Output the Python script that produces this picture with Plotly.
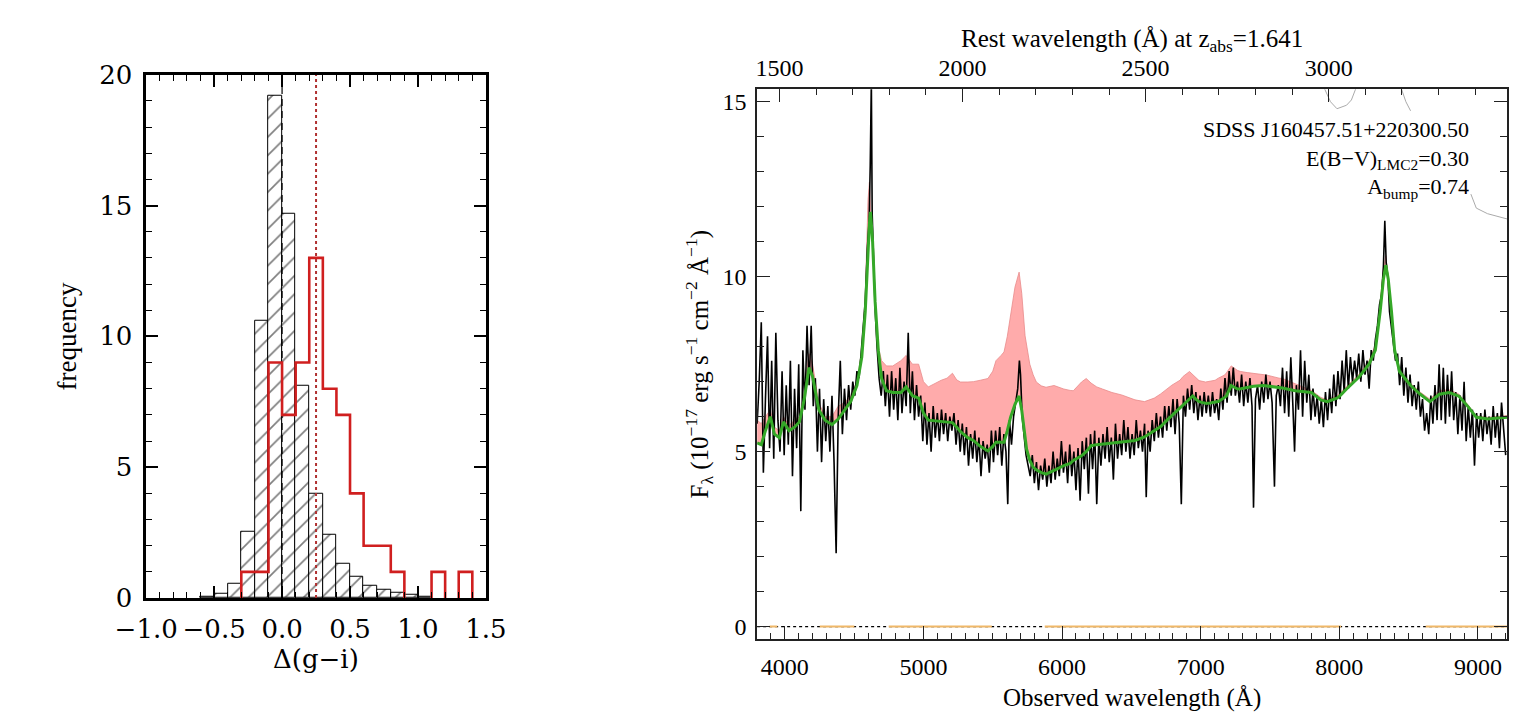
import plotly.graph_objects as go

# ---------------- LEFT PANEL DATA ----------------
ctrl_edges = [-0.6, -0.5, -0.4, -0.3, -0.2, -0.1, 0.0, 0.1, 0.2, 0.3, 0.4, 0.5, 0.6, 0.7, 0.8, 0.9, 1.0, 1.1]
ctrl_freq = [0.05, 0.15, 0.55, 2.55, 10.6, 19.2, 14.7, 8.1, 4.0, 2.4, 1.3, 0.8, 0.45, 0.3, 0.2, 0.12, 0.06]

red_edges = [-0.3, -0.2, -0.1, 0.0, 0.1, 0.2, 0.3, 0.4, 0.5, 0.6, 0.7, 0.8, 0.9, 1.0, 1.1, 1.2, 1.3, 1.4]
red_freq = [1, 1, 9, 7, 9, 13, 8, 7, 4, 2, 2, 1, 0, 0, 1, 0, 1]

ctrl_median = 0.0
red_median = 0.25
x_ticks_left = [-1.0, -0.5, 0.0, 0.5, 1.0, 1.5]
y_ticks_left = [0, 5, 10, 15, 20]

# ---------------- RIGHT PANEL DATA ----------------
z_abs = 1.641

model_wave = [3800, 3830, 3860, 3895, 3925, 3960, 3990, 4030, 4070, 4105, 4140, 4174, 4200, 4245, 4290,
              4340, 4385, 4430, 4475, 4520, 4555, 4580, 4600, 4610, 4618, 4633, 4651, 4674, 4698, 4733,
              4779, 4837, 4875, 4920, 4965, 5000, 5035, 5080, 5128, 5170, 5209, 5240, 5267, 5320, 5360,
              5410, 5465, 5500, 5523, 5560, 5581, 5605, 5628, 5660, 5690, 5709, 5733, 5744, 5767, 5791,
              5814, 5850, 5884, 5942, 5965, 6012, 6058, 6081, 6140, 6174, 6209, 6250, 6291, 6360, 6430,
              6526, 6595, 6665, 6711, 6757, 6792, 6850, 6873, 6919, 6942, 6965, 6988, 7035, 7058, 7104,
              7127, 7173, 7185, 7220, 7266, 7289, 7335, 7381, 7451, 7474, 7566, 7590, 7682, 7775, 7798,
              7867, 7913, 7983, 8006, 8052, 8144, 8214, 8237, 8260, 8295, 8318, 8335, 8353, 8376, 8399,
              8434, 8514, 8584, 8653, 8722, 8792, 8861, 8930, 8988, 9069, 9210]
model_green = [5.25, 5.2, 5.6, 6.0, 5.5, 5.4, 5.85, 5.6, 5.7, 5.85, 6.5, 7.4, 7.15, 6.2, 5.9,
               5.77, 5.93, 6.18, 6.43, 6.89, 7.7, 9.0, 10.9, 11.5, 11.85, 11.0, 9.3, 7.9, 7.09, 6.74,
               6.69, 6.69, 6.85, 6.6, 6.53, 6.1, 5.9, 5.88, 5.88, 5.86, 5.83, 5.7, 5.57, 5.4, 5.32,
               5.15, 5.02, 5.15, 5.27, 5.27, 5.27, 5.6, 5.98, 6.35, 6.59, 6.18, 5.4, 5.07, 4.75, 4.56,
               4.48, 4.4, 4.36, 4.48, 4.51, 4.6, 4.66, 4.75, 4.88, 5.0, 5.17, 5.2, 5.22, 5.25, 5.27,
               5.32, 5.42, 5.6, 5.72, 5.9, 6.03, 6.25, 6.33, 6.5, 6.59, 6.5, 6.43, 6.38, 6.38, 6.42,
               6.43, 6.55, 6.59, 6.89, 6.79, 6.8, 6.84, 6.87, 6.89, 6.88, 6.84, 6.82, 6.74, 6.7, 6.69,
               6.48, 6.43, 6.53, 6.6, 6.79, 7.14, 7.5, 7.7, 7.9, 9.02, 9.93, 10.33, 9.93, 9.02, 7.9,
               7.29, 6.89, 6.64, 6.43, 6.64, 6.69, 6.59, 6.28, 5.98, 5.93, 5.98]
model_red = [5.9, 5.8, 6.0, 6.2, 5.7, 5.6, 6.0, 5.75, 5.9, 6.0, 6.7, 7.8, 7.5, 6.4, 6.0,
             6.0, 6.3, 6.4, 6.6, 7.0, 7.9, 9.4, 12.2, 12.7, 11.9, 11.0, 9.3, 8.0, 7.6, 7.45,
             7.45, 7.6, 7.75, 7.5, 7.5, 7.0, 6.85, 6.95, 7.04, 7.1, 7.24, 7.05, 6.99, 6.99, 7.0,
             7.04, 7.09, 7.3, 7.6, 7.75, 7.85, 8.3, 8.9, 9.7, 10.13, 9.52, 8.31, 8.0, 7.5, 7.2,
             6.99, 6.88, 6.84, 6.89, 6.85, 6.79, 6.75, 6.74, 6.99, 7.09, 6.96, 6.85, 6.79, 6.69, 6.62,
             6.48, 6.43, 6.53, 6.65, 6.79, 6.9, 7.04, 7.15, 7.29, 7.2, 7.09, 7.03, 6.99, 7.0, 7.04,
             7.1, 7.19, 7.25, 7.45, 7.32, 7.29, 7.26, 7.24, 7.2, 7.19, 7.1, 7.09, 6.94, 6.79, 6.75,
             6.55, 6.48, 6.6, 6.69, 6.85, 7.22, 7.6, 7.8, 8.05, 9.3, 10.2, 10.6, 10.0, 9.05, 7.95,
             7.35, 6.95, 6.7, 6.5, 6.75, 6.77, 6.65, 6.33, 6.02, 5.98, 6.03]

obs_wave = [3800, 3815, 3830, 3845, 3860, 3875, 3890, 3905, 3920, 3935,
            3950, 3965, 3980, 3995, 4010, 4025, 4040, 4055, 4070, 4085,
            4100, 4115, 4130, 4145, 4160, 4175, 4190, 4205, 4220, 4235,
            4250, 4265, 4280, 4295, 4310, 4325, 4340, 4355, 4370, 4385,
            4400, 4415, 4430, 4445, 4460, 4475, 4490, 4505, 4520, 4535,
            4550, 4565, 4580, 4595, 4608, 4616, 4624, 4630, 4640, 4652, 4665, 4680,
            4695, 4710, 4725, 4740, 4755, 4770, 4785, 4800, 4815, 4830,
            4845, 4860, 4875, 4890, 4905, 4920, 4935, 4950, 4965, 4980,
            4995, 5010, 5025, 5040, 5055, 5070, 5085, 5100, 5115, 5130,
            5145, 5160, 5175, 5190, 5205, 5220, 5235, 5250, 5265, 5280,
            5295, 5310, 5325, 5340, 5355, 5370, 5385, 5400, 5415, 5430,
            5445, 5460, 5475, 5490, 5505, 5520, 5535, 5550, 5565, 5580,
            5595, 5608, 5620, 5635, 5650, 5665, 5680, 5692, 5700, 5712,
            5725, 5740, 5755, 5770, 5785, 5800, 5815, 5830, 5845, 5860,
            5875, 5890, 5905, 5920, 5935, 5950, 5965, 5980, 5995, 6010,
            6025, 6040, 6055, 6070, 6085, 6100, 6115, 6130, 6145, 6160,
            6175, 6190, 6205, 6220, 6235, 6250, 6265, 6280, 6295, 6310,
            6325, 6340, 6355, 6370, 6385, 6400, 6415, 6430, 6445, 6460,
            6475, 6490, 6505, 6520, 6535, 6550, 6565, 6580, 6595, 6607,
            6620, 6635, 6650, 6665, 6680, 6695, 6710, 6725, 6740, 6755,
            6770, 6785, 6800, 6815, 6830, 6845, 6860, 6875, 6890, 6905,
            6920, 6935, 6950, 6965, 6980, 6995, 7010, 7025, 7040, 7055,
            7070, 7085, 7100, 7115, 7130, 7145, 7160, 7175, 7190, 7205,
            7220, 7235, 7250, 7265, 7280, 7295, 7310, 7325, 7340, 7355,
            7370, 7381, 7395, 7410, 7425, 7440, 7455, 7470, 7485, 7500,
            7515, 7532, 7545, 7560, 7575, 7590, 7605, 7620, 7635, 7650,
            7665, 7677, 7690, 7705, 7720, 7735, 7750, 7765, 7780, 7795,
            7810, 7825, 7840, 7855, 7870, 7885, 7900, 7915, 7930, 7945,
            7960, 7975, 7990, 8005, 8020, 8035, 8050, 8065, 8080, 8095,
            8110, 8125, 8140, 8155, 8170, 8185, 8200, 8215, 8230, 8245,
            8260, 8275, 8290, 8305, 8318, 8328, 8338, 8350, 8362, 8375,
            8390, 8405, 8420, 8435, 8450, 8465, 8480, 8495, 8510, 8525,
            8540, 8555, 8570, 8585, 8600, 8615, 8630, 8645, 8660, 8675,
            8690, 8705, 8720, 8735, 8750, 8765, 8780, 8795, 8810, 8825,
            8840, 8855, 8870, 8885, 8900, 8915, 8930, 8945, 8960, 8975,
            8990, 9005, 9020, 9035, 9050, 9065, 9080, 9095, 9110, 9125,
            9140, 9155, 9170, 9185, 9200]
obs_flux = [5.8, 7.0, 8.7, 4.4, 6.5, 8.3, 5.1, 7.6, 4.8, 8.4,
            5.9, 5.0, 7.3, 4.9, 6.9, 5.2, 7.6, 4.3, 6.8, 5.1,
            7.5, 3.3, 7.9, 6.2, 8.6, 6.9, 8.6, 6.3, 7.1, 5.0,
            6.8, 4.7, 6.5, 5.3, 6.3, 5.0, 6.6, 4.7, 2.1, 6.0,
            7.6, 5.5, 6.8, 5.9, 6.9, 6.2, 7.0, 6.6, 7.3, 7.1,
            7.8, 8.5, 9.3, 10.8, 11.6, 13.2, 15.6, 11.8, 10.2, 9.0, 8.0, 7.1,
            6.6, 7.3, 6.3, 7.2, 6.0, 7.3, 6.2, 7.1, 5.9, 7.4,
            6.1, 7.0, 6.3, 8.4, 6.1, 7.3, 5.9, 6.9, 6.0, 6.6,
            5.3, 6.4, 5.2, 6.1, 5.0, 6.3, 5.4, 6.1, 5.3, 6.2,
            5.5, 6.1, 5.3, 6.0, 5.6, 6.1, 5.2, 5.9, 5.0, 5.8,
            4.9, 5.7, 4.6, 5.5, 4.8, 5.6, 4.7, 5.4, 4.3, 5.3,
            4.8, 5.2, 4.4, 5.6, 4.7, 5.6, 4.9, 5.7, 4.6, 5.5,
            5.0, 3.5, 5.9, 5.2, 6.0, 6.4, 6.8, 7.6, 7.2, 6.0,
            5.5, 4.9, 4.6, 4.3, 4.9, 4.1, 4.7, 3.9, 4.6, 4.2,
            4.8, 4.0, 4.6, 4.1, 5.0, 4.2, 4.8, 4.3, 5.3, 4.4,
            5.0, 4.1, 5.2, 4.3, 5.0, 3.9, 5.1, 3.6, 5.3, 4.5,
            5.4, 3.8, 5.5, 4.5, 5.6, 3.5, 5.4, 4.6, 5.5, 4.8,
            5.7, 4.7, 5.4, 4.2, 5.8, 4.8, 5.5, 4.9, 5.9, 5.0,
            5.7, 4.8, 5.5, 4.9, 5.9, 5.1, 5.6, 5.0, 5.8, 3.7,
            5.6, 5.0, 5.9, 5.3, 6.1, 5.4, 6.0, 5.4, 6.3, 5.6,
            6.3, 5.7, 6.5, 5.5, 6.5, 5.8, 3.5, 6.6, 6.0, 6.8,
            6.2, 6.9, 6.1, 6.7, 5.9, 6.6, 6.0, 6.7, 6.1, 6.6,
            6.0, 6.7, 6.1, 6.5, 5.9, 6.8, 6.2, 7.1, 6.4, 7.3,
            6.6, 7.4, 6.6, 7.0, 6.4, 7.2, 6.3, 7.0, 6.4, 7.1,
            6.3, 3.4, 6.5, 6.9, 6.2, 7.0, 6.4, 7.2, 6.5, 7.0,
            6.4, 4.0, 6.6, 6.9, 6.3, 7.4, 6.1, 7.3, 6.0, 7.7,
            6.3, 5.0, 6.9, 6.2, 7.9, 6.0, 7.6, 6.4, 7.2, 5.9,
            6.8, 6.0, 6.6, 5.8, 6.5, 5.7, 6.7, 5.9, 6.8, 6.1,
            7.2, 6.3, 7.3, 6.5, 7.6, 6.7, 7.9, 6.8, 7.7, 7.0,
            7.6, 7.1, 7.8, 7.0, 7.9, 7.2, 7.6, 6.8, 7.9, 7.6,
            8.2, 8.6, 9.2, 9.5, 10.3, 11.6, 10.4, 10.0, 9.0, 8.6,
            8.0, 7.6, 7.8, 6.9, 7.7, 6.6, 7.4, 6.4, 7.2, 6.3,
            6.9, 6.2, 7.0, 6.0, 6.5, 5.6, 6.1, 5.5, 6.6, 5.8,
            6.9, 5.9, 7.5, 5.9, 7.4, 5.8, 7.2, 6.0, 7.3, 5.9,
            6.7, 5.5, 6.6, 5.6, 7.0, 5.3, 6.3, 5.4, 6.2, 4.6,
            6.1, 5.4, 6.1, 5.3, 6.2, 5.5, 6.0, 5.2, 6.3, 5.4,
            6.1, 5.1, 6.4, 5.5, 4.9]

# pieces of a grey comparison spectrum that dip below the top of the frame
grey_wave = [7890, 7936, 7983, 8017, 8052, 8087, 8121, None, 8445, 8480, 8514, None, 8949, 8988, 9069, 9210]
grey_flux = [15.4, 15.0, 14.8, 14.84, 14.9, 15.05, 15.4, None, 15.4, 15.0, 14.74, None, 12.36, 11.96, 11.8, 11.65]

# wavelength ranges where the (orange) error spectrum is drawn at zero
err_start = [3890, 4252, 4749, 5875, 8623]
err_end = [3946, 4501, 5493, 8013, 9210]

x_range_obs = [3800, 9210]
y_range_flux = [-0.36, 15.36]

# ---------------- FIGURE ----------------
W, H = 1522, 720
fx = lambda x: x / W
fy = lambda y: 1 - y / H

fig = go.Figure()

ctrl_ctr = [(ctrl_edges[i] + ctrl_edges[i + 1]) / 2 for i in range(len(ctrl_freq))]
fig.add_trace(go.Bar(
    x=ctrl_ctr, y=ctrl_freq, width=0.1, xaxis='x', yaxis='y',
    marker=dict(color='white', line=dict(color='black', width=1),
                pattern=dict(shape='/', fgcolor='black', bgcolor='white', size=13, solidity=0.13)),
    showlegend=False, hoverinfo='skip'))

fig.add_trace(go.Scatter(x=[ctrl_median, ctrl_median], y=[0, 20], mode='lines', xaxis='x', yaxis='y',
                         line=dict(color='black', width=1.2, dash='7px,5px'), showlegend=False, hoverinfo='skip'))

sx, sy = [], []
prev = 0
for i, v in enumerate(red_freq):
    l, r = red_edges[i], red_edges[i + 1]
    if v == 0:
        if prev != 0:
            sx += [l, None]
            sy += [0, None]
        prev = 0
        continue
    if prev == 0:
        sx.append(l)
        sy.append(0)
    sx += [l, r]
    sy += [v, v]
    prev = v
if prev != 0:
    sx.append(red_edges[-1])
    sy.append(0)
fig.add_trace(go.Scatter(x=sx, y=sy, mode='lines', xaxis='x', yaxis='y',
                         line=dict(color='#d01f1f', width=2.6), showlegend=False, hoverinfo='skip',
                         connectgaps=False))
fig.add_trace(go.Scatter(x=[red_median, red_median], y=[0, 20], mode='lines', xaxis='x', yaxis='y',
                         line=dict(color='#b03030', width=2, dash='dot'), showlegend=False, hoverinfo='skip'))

fig.add_trace(go.Scatter(x=x_range_obs, y=[0, 0], mode='lines', xaxis='x2', yaxis='y2',
                         line=dict(color='black', width=1.3, dash='dot'), showlegend=False, hoverinfo='skip'))
ex, ey = [], []
for a, b in zip(err_start, err_end):
    ex += [a, b, None]
    ey += [0, 0, None]
fig.add_trace(go.Scatter(x=ex, y=ey, mode='lines', xaxis='x2', yaxis='y2',
                         line=dict(color='#f0b868', width=2), showlegend=False, hoverinfo='skip'))

fig.add_trace(go.Scatter(x=grey_wave, y=grey_flux, mode='lines', xaxis='x2', yaxis='y2',
                         line=dict(color='#aaaaaa', width=1), showlegend=False, hoverinfo='skip'))

fig.add_trace(go.Scatter(x=model_wave, y=model_green, mode='lines', xaxis='x2', yaxis='y2',
                         line=dict(color='rgba(0,0,0,0)', width=0), showlegend=False, hoverinfo='skip'))
fig.add_trace(go.Scatter(x=model_wave, y=model_red, mode='lines', xaxis='x2', yaxis='y2', fill='tonexty',
                         fillcolor='#ffabab', line=dict(color='#e88a8a', width=0.8),
                         showlegend=False, hoverinfo='skip'))
fig.add_trace(go.Scatter(x=obs_wave, y=obs_flux, mode='lines', xaxis='x2', yaxis='y2',
                         line=dict(color='black', width=1.6), showlegend=False, hoverinfo='skip'))
fig.add_trace(go.Scatter(x=model_wave, y=model_green, mode='lines', xaxis='x2', yaxis='y2',
                         line=dict(color='#35a828', width=3), showlegend=False, hoverinfo='skip'))
fig.add_trace(go.Scatter(x=[w / (1 + z_abs) for w in x_range_obs], y=[None, None], mode='lines',
                         xaxis='x3', yaxis='y2', showlegend=False, hoverinfo='skip'))

left_font = dict(family='DejaVu Serif', size=26, color='black')
right_font = dict(family='Liberation Serif', size=24, color='black')

common_left = dict(showgrid=False, zeroline=False, showline=True, linewidth=2.5, linecolor='black',
                   mirror='ticks', ticks='inside', ticklen=12, tickwidth=1.5, tickcolor='black',
                   tickfont=left_font)
common_right = dict(showgrid=False, zeroline=False, showline=True, linewidth=1.5, linecolor='#222',
                    ticks='inside', ticklen=13, tickwidth=1.2, tickcolor='#222', tickfont=right_font)

fig.update_layout(
    width=W, height=H, autosize=False,
    margin=dict(l=0, r=0, t=0, b=0),
    paper_bgcolor='white', plot_bgcolor='white',
    showlegend=False, bargap=0,
    xaxis=dict(domain=[fx(110), fx(462)], anchor='y', range=[-1.0, 1.5],
               tickvals=x_ticks_left, tickformat='.1f', ticklabelstandoff=6,
               minor=dict(dtick=0.1, tick0=0, ticks='inside', ticklen=6, tickcolor='black', tickwidth=1.2),
               **common_left),
    yaxis=dict(domain=[fy(600), fy(54)], anchor='x', range=[0, 20],
               tickvals=y_ticks_left, ticklabelstandoff=6,
               minor=dict(dtick=1, tick0=0, ticks='inside', ticklen=6, tickcolor='black', tickwidth=1.2),
               **common_left),
    xaxis2=dict(domain=[fx(743), fx(1520)], anchor='y2', range=x_range_obs,
                dtick=1000, tick0=0, mirror=True, ticklabelstandoff=5,
                minor=dict(dtick=100, tick0=0, ticks='inside', ticklen=6, tickcolor='#222', tickwidth=1),
                **common_right),
    xaxis3=dict(overlaying='x2', anchor='y2', side='top',
                range=[w / (1 + z_abs) for w in x_range_obs], dtick=500, tick0=0, ticklabelstandoff=2,
                minor=dict(dtick=100, tick0=0, ticks='inside', ticklen=6, tickcolor='#222', tickwidth=1),
                **common_right),
    yaxis2=dict(domain=[fy(643), fy(69)], anchor='x2', range=y_range_flux,
                dtick=5, tick0=0, mirror='ticks', ticklabelstandoff=4,
                minor=dict(dtick=1, tick0=0, ticks='inside', ticklen=7, tickcolor='#222', tickwidth=1),
                **common_right),
)

ann = []
def add_text(text, x, y, size, family, xanchor='center', yanchor='middle', angle=0):
    ann.append(dict(text=text, x=fx(x), y=fy(y), xref='paper', yref='paper', showarrow=False,
                    xanchor=xanchor, yanchor=yanchor, textangle=angle,
                    font=dict(family=family, size=size, color='black')))

add_text('frequency', 28, 327, 27, 'Liberation Serif', angle=-90)
add_text('Δ(g−i)', 286, 664, 26, 'DejaVu Serif')
add_text('F<sub>λ</sub> (10<sup>−17</sup> erg s<sup>−1</sup> cm<sup>−2</sup> Å<sup>−1</sup>)',
         683, 356, 25, 'Liberation Serif', angle=-90)
add_text('Observed wavelength (Å)', 1131, 721, 25, 'Liberation Serif', yanchor='bottom')
add_text('Rest wavelength (Å) at z<sub>abs</sub>=1.641', 1131, 0, 25, 'Liberation Serif', yanchor='top')
add_text('SDSS J160457.51+220300.50<br>E(B−V)<sub>LMC2</sub>=0.30<br>A<sub>bump</sub>=0.74',
         1483, 96, 22, 'Liberation Serif', xanchor='right', yanchor='top')
ann[-1]['align'] = 'right'
fig.update_layout(annotations=ann)

fig.write_html("out.html")
